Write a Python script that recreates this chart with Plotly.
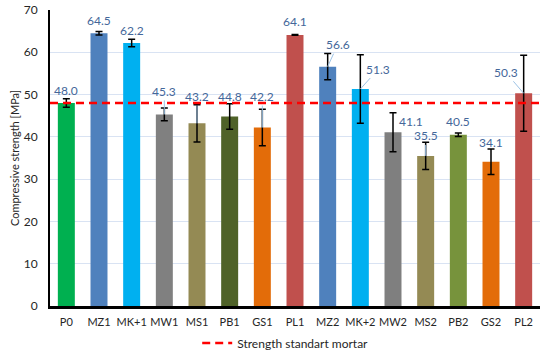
import plotly.graph_objects as go

categories = ["P0", "MZ1", "MK+1", "MW1", "MS1", "PB1", "GS1", "PL1",
              "MZ2", "MK+2", "MW2", "MS2", "PB2", "GS2", "PL2"]
strength = [48.0, 64.5, 62.2, 45.3, 43.2, 44.8, 42.2, 64.1,
            56.6, 51.3, 41.1, 35.5, 40.5, 34.1, 50.3]
errors = [1.0, 0.4, 0.9, 1.5, 4.4, 3.0, 4.3, 0.1,
          3.1, 8.1, 4.6, 3.2, 0.4, 3.0, 9.0]
standard_mortar = 48.0
y_ticks = [0, 10, 20, 30, 40, 50, 60, 70]

bar_colors = ["#00B050", "#4F81BD", "#00B0F0", "#808080", "#948A54", "#4F6228",
              "#E36C09", "#C0504D", "#4F81BD", "#00B0F0", "#7F7F7F", "#948A54",
              "#77933C", "#E36C09", "#C0504D"]
# label offsets in pixels (dx, dy) and whether a leader line is drawn
label_style = [(0, -13, False), (0, -13, False), (0, -12, False), (0, -23, True),
               (0, -27, True), (0, -20, False), (0, -31, True), (0, -13, False),
               (10, -22, True), (18, -20, True), (18, -11, False), (0, -20, True),
               (0, -13, False), (0, -19, False), (-18, -21, True)]

FONT = "Lato"
LABEL_COLOR = "#44679A"

idx = list(range(len(categories)))
fig = go.Figure()
fig.add_trace(go.Bar(
    x=idx, y=strength, width=0.52,
    marker=dict(color=bar_colors, line=dict(width=0)),
    error_y=dict(type="data", array=errors, visible=True, color="black",
                 thickness=1.5, width=3.5),
    showlegend=False, hoverinfo="skip"))
fig.add_trace(go.Scatter(
    x=[-0.5, len(categories) - 0.5], y=[standard_mortar, standard_mortar],
    mode="lines", line=dict(color="#FF0000", width=2.5, dash="8px,5px"),
    name="Strength standart mortar"))

annotations = []
for i, (v, (dx, dy, leader)) in enumerate(zip(strength, label_style)):
    if leader:
        annotations.append(dict(x=i, y=v, xref="x", yref="y", text=f"{v:.1f}",
                                showarrow=True, arrowhead=0, arrowwidth=1,
                                arrowcolor="#9DC3E6", ax=dx, ay=dy, standoff=0,
                                font=dict(family=FONT, size=12, color=LABEL_COLOR)))
    else:
        annotations.append(dict(x=i, y=v, xref="x", yref="y", text=f"{v:.1f}",
                                showarrow=False, xshift=dx, yshift=-dy,
                                font=dict(family=FONT, size=12, color=LABEL_COLOR)))
# y-axis arrow
annotations.append(dict(x=0, y=y_ticks[-1] + 0.3, xref="paper", yref="y", text="",
                        showarrow=True, arrowhead=2, arrowsize=1, arrowwidth=2,
                        arrowcolor="black", ax=0, ay=290, standoff=0))

fig.update_layout(
    width=550, height=355,
    margin=dict(l=50, r=10, t=10, b=49, autoexpand=False),
    plot_bgcolor="white", paper_bgcolor="white",
    font=dict(family=FONT, size=12, color="#262626"),
    annotations=annotations,
    legend=dict(orientation="h", x=0.48, xanchor="center", y=-0.125,
                yanchor="middle", font=dict(size=12, color="#262626"),
                bgcolor="rgba(0,0,0,0)"),
    xaxis=dict(range=[-0.5, len(categories) - 0.5], tickvals=idx,
               ticktext=categories, showgrid=False, showline=True,
               linecolor="black", linewidth=2.5, ticks="", zeroline=False,
               tickangle=0, automargin=False, ticklabelstandoff=4,
               tickfont=dict(size=11, color="#262626")),
    yaxis=dict(range=[0, 70], tickvals=y_ticks, showgrid=True,
               gridcolor="#D9E3F3", gridwidth=1, showline=True,
               linecolor="black", linewidth=2, ticks="", zeroline=False,
               ticklabelstandoff=8, automargin=False,
               title=dict(text="Compressive strength [MPa]",
                          font=dict(size=11, color="#262626"), standoff=2),
               tickfont=dict(size=12, color="#262626")),
)
fig.write_html("out.html", config={"displayModeBar": False},
               post_script="document.body.style.margin='0px';document.body.style.overflow='hidden';")
